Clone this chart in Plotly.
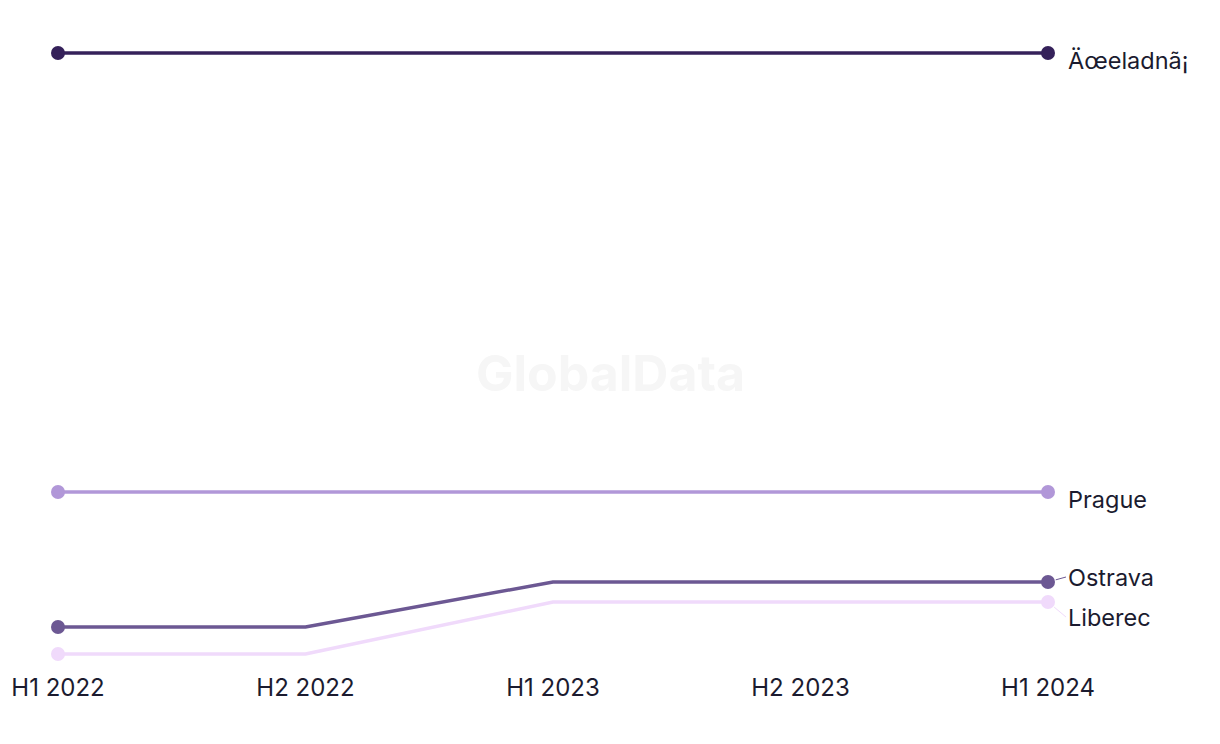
import plotly.graph_objects as go

periods = ["H1 2022", "H2 2022", "H1 2023", "H2 2023", "H1 2024"]
series_names = ["Äœeladnã¡", "Prague", "Ostrava", "Liberec"]
val_zeleadna = [64.7, 64.7, 64.7, 64.7, 64.7]
val_prague = [20.8, 20.8, 20.8, 20.8, 20.8]
val_ostrava = [7.3, 7.3, 11.8, 11.8, 11.8]
val_liberec = [4.6, 4.6, 9.8, 9.8, 9.8]

colors = ["#35215a", "#b197d8", "#6c5893", "#f0dafb"]
label_shift = [-7, -7, 5, -15]  # pixel offset of label from end point (up positive)

values = [val_zeleadna, val_prague, val_ostrava, val_liberec]
n = len(periods)
marker_sizes = [14 if i in (0, n - 1) else 0 for i in range(n)]

fig = go.Figure()
for name, vals, col in zip(series_names, values, colors):
    fig.add_trace(go.Scatter(
        x=list(range(n)), y=vals, mode="lines+markers", name=name,
        line=dict(color=col, width=3.5),
        marker=dict(color=col, size=marker_sizes, opacity=1, line=dict(width=0)),
        cliponaxis=False, showlegend=False, hoverinfo="skip",
    ))

for name, vals, col, sh in zip(series_names, values, colors, label_shift):
    ann = dict(
        x=n - 1, y=vals[-1], xref="x", yref="y", text=name,
        xanchor="left", yanchor="middle",
        font=dict(family="Inter, sans-serif", size=23.5, color="#1b1b2f"),
    )
    if sh in (5, -15):
        ann.update(showarrow=True, axref="pixel", ayref="pixel", ax=18, ay=-sh,
                   arrowhead=0, arrowwidth=1, arrowcolor=col, standoff=8)
    else:
        ann.update(showarrow=False, xshift=18, yshift=sh)
    fig.add_annotation(**ann)

fig.add_annotation(
    x=0.5576, y=0.463, xref="paper", yref="paper", text="<b>GlobalData</b>",
    showarrow=False, font=dict(family="Inter, sans-serif", size=50, color="#f6f6f6"),
)

fig.update_layout(
    width=1220, height=744,
    margin=dict(l=58, r=172, t=40, b=84),
    paper_bgcolor="white", plot_bgcolor="white",
    font=dict(family="Inter, sans-serif", color="#1b1b2f"),
    xaxis=dict(
        tickmode="array", tickvals=list(range(n)), ticktext=periods,
        range=[0, n - 1], showgrid=False, zeroline=False, showline=False,
        tickfont=dict(size=24, color="#1b1b2f"), ticks="", ticklabelstandoff=11,
    ),
    yaxis=dict(range=[4.0, 66.0], visible=False, showgrid=False, zeroline=False),
)

fig.write_html("out.html")
